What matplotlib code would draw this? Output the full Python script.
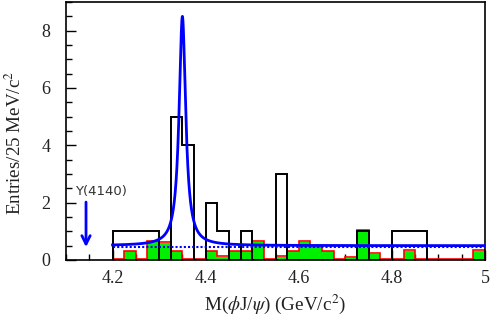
import numpy as np
import matplotlib
matplotlib.use("Agg")
import matplotlib.pyplot as plt
from matplotlib.ticker import MultipleLocator

plt.rcParams['font.family'] = ['Liberation Serif', 'DejaVu Serif']
plt.rcParams['mathtext.fontset'] = 'stix'

# ---- data ----
bin_edges_start = 4.2
bin_width = 0.025
data_counts = [1, 1, 1, 1, 0, 5, 4, 0, 2, 1, 0, 1, 0, 0, 3, 0,
               0, 0, 0, 0, 0, 1, 0, 0, 1, 1, 1, 0, 0, 0, 0, 0]
bkg_counts = [0, 0.3, 0, 0.65, 0.6, 0.3, 0, 0, 0.3, 0.1, 0.3, 0.3, 0.63, 0, 0.1, 0.3,
              0.63, 0.42, 0.3, 0, 0.08, 1.0, 0.2, 0, 0, 0.33, 0, 0, 0, 0, 0, 0.33]
# fit parameters (Breit-Wigner + flat background)
fit_mass = 4.350
fit_width = 0.017
fit_peak = 8.0
fit_bkg = 0.5
bkg_dotted = 0.45
xticks = [4.2, 4.4, 4.6, 4.8, 5.0]
xticklabels = ['4.2', '4.4', '4.6', '4.8', '5']
yticks = [0, 2, 4, 6, 8]

edges = bin_edges_start + bin_width * np.arange(len(data_counts) + 1)

fig = plt.figure(figsize=(4.91, 3.23), dpi=100)
ax = fig.add_axes([66/491, 1 - 260/323, (485 - 66)/491, (260 - 2)/323])

# background histogram: green fill with red outline
ax.stairs(bkg_counts, edges, fill=True, color='#00f000', zorder=2)
ax.stairs(np.array(bkg_counts) + 0.03, edges, color='red', lw=1.2, zorder=2.5)

# data histogram
ax.stairs(data_counts, edges, color='black', lw=1.4, zorder=3)

# fit curve
xs = np.linspace(4.2, 5.0, 2000)
hw = fit_width / 2
curve = fit_bkg + fit_peak * hw**2 / ((xs - fit_mass)**2 + hw**2)
ax.plot(xs, curve, color='#0000ff', lw=2.0, zorder=4)
ax.plot([4.2, 5.0], [bkg_dotted, bkg_dotted], color='#0000ff', lw=1.5,
        ls=(0, (1.0, 1.0)), zorder=3.5)

# Y(4140) annotation
ax.annotate('', xy=(4.143, 0.45), xytext=(4.143, 2.02),
            arrowprops=dict(arrowstyle='->,head_width=0.3,head_length=0.6',
                            color='#0000ff', lw=2.0, shrinkA=0, shrinkB=0),
            zorder=5)
ax.text(4.119, 2.18, 'Y(4140)', family='DejaVu Sans', fontsize=9.5,
        color='#333333', ha='left', va='bottom')

ax.set_xlim(4.1, 5.0)
ax.set_ylim(0, 9.0)
ax.set_xticks(xticks)
ax.set_xticklabels(xticklabels)
ax.set_yticks(yticks)
ax.xaxis.set_minor_locator(MultipleLocator(0.05))
ax.yaxis.set_minor_locator(MultipleLocator(0.5))
ax.tick_params(axis='both', which='major', direction='in', length=7, width=1,
               labelsize=13, colors='black', labelcolor='#222222')
ax.tick_params(axis='both', which='minor', direction='in', length=4, width=1)
ax.tick_params(axis='x', which='major', pad=7)
ax.tick_params(axis='y', which='major', pad=11)
for s in ax.spines.values():
    s.set_linewidth(1.2)

ax.set_xlabel(r'M($\phi$J/$\psi$) (GeV/c$^2$)', fontsize=13.8, color='#222222')
ax.xaxis.set_label_coords((275 - 66) / 419, -(310 - 260) / 258, transform=ax.transAxes)
ax.xaxis.label.set_va('baseline')
ax.set_ylabel(r'Entries/25 MeV/c$^2$', fontsize=13.7, color='#222222')
ax.yaxis.set_label_coords(-(66 - 15) / 419, (260 - 143) / 258, transform=ax.transAxes)
ax.yaxis.label.set_va('center')

fig.savefig('out.png', dpi=100)
